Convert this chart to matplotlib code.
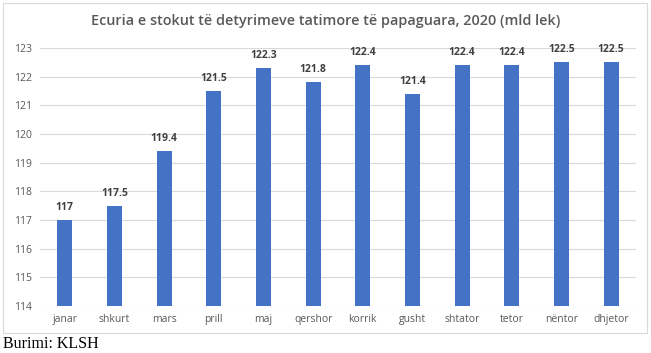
import matplotlib
matplotlib.use("Agg")
import matplotlib.pyplot as plt
from matplotlib.patches import Rectangle

months = ["janar", "shkurt", "mars", "prill", "maj", "qershor", "korrik",
          "gusht", "shtator", "tetor", "nëntor", "dhjetor"]
values = [117, 117.5, 119.4, 121.5, 122.3, 121.8, 122.4, 121.4, 122.4, 122.4, 122.5, 122.5]
labels = ["117", "117.5", "119.4", "121.5", "122.3", "121.8", "122.4",
          "121.4", "122.4", "122.4", "122.5", "122.5"]
yticks = list(range(114, 124))

plt.rcParams["font.family"] = ["Open Sans", "DejaVu Sans"]

fig = plt.figure(figsize=(6.51, 3.53), dpi=100)
fig.patches.append(Rectangle((3 / 651, 20 / 353), 644 / 651, 330 / 353,
                             transform=fig.transFigure, fill=False,
                             edgecolor="#d9d9d9", linewidth=0.8))

ax = fig.add_axes([40 / 651, 47 / 353, 596 / 651, 258 / 353])
x = range(len(months))
ax.bar(x, [v - 114 for v in values], bottom=114, width=0.3, color="#4472c4", zorder=3)
for i, (v, t) in enumerate(zip(values, labels)):
    ax.text(i, v + 0.25, t, ha="center", va="bottom", fontsize=7.5,
            fontweight="bold", color="#404040")

ax.set_ylim(114, 123)
ax.set_xlim(-0.5, len(months) - 0.5)
ax.set_yticks(yticks)
ax.set_yticklabels([str(t) for t in yticks])
ax.set_xticks(list(x))
ax.set_xticklabels(months)
ax.tick_params(length=0, labelsize=7.5, colors="#595959", pad=6)
ax.grid(axis="y", color="#d9d9d9", linewidth=0.8, zorder=0)
for s in ax.spines.values():
    s.set_visible(False)

fig.text(0.5, 1 - 21 / 353, "Ecuria e stokut të detyrimeve tatimore të papaguara, 2020 (mld lek)",
         ha="center", va="center", fontsize=10.4, fontweight=600, color="#595959")
fig.text(3 / 651, 1 - 344 / 353, "Burimi: KLSH", ha="left", va="center",
         fontsize=11.5, family="Liberation Serif", color="black")

fig.savefig("out.png", dpi=100)
